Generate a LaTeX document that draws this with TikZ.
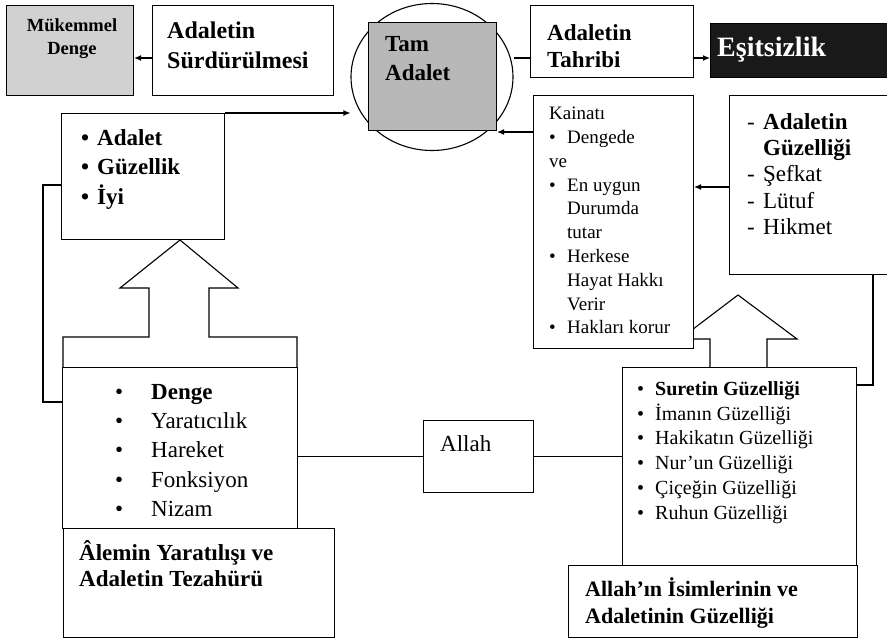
\documentclass[tikz,border=0pt]{standalone}
\usepackage{fontspec}
\setmainfont{Liberation Serif}
\usetikzlibrary{arrows.meta,shapes.geometric}

\tikzset{
  box/.style={draw,line width=1.1pt,inner sep=0pt,anchor=north west,fill=white},
  txt/.style={inner sep=0pt,anchor=north west,align=left},
  arr/.style={-{Latex[length=7pt,width=6pt]},line width=1.1pt},
  conn/.style={line width=1.1pt},
}

\newcommand{\bul}[1]{\makebox[#1][l]{\textbullet}}
\newcommand{\dsh}[1]{\makebox[#1][l]{-}}

\begin{document}
\begin{tikzpicture}[x=1pt,y=-1pt]
  \clip (0,0) rectangle (887,642);
  % circle round the centre box
  \node (circ) at (432,77) [ellipse,draw,line width=1.1pt,minimum width=162,minimum height=147,inner sep=0pt] {};
  \node (tam) at (368,22) [box,fill=black!28,minimum width=128,minimum height=108] {};
  \node (tamtxt) at (385,36) [txt,font=\fontsize{23}{29}\selectfont\bfseries] {Tam\\Adalet};

  % top row
  \node (mukemmel) at (6,5) [box,fill=black!18,minimum width=127,minimum height=90] {};
  \node (mukemmeltxt) at (72,18) [txt,anchor=north,align=center,font=\fontsize{18.5}{23}\selectfont\bfseries] {Mükemmel\\Denge};
  \node (surdur) at (152,5) [box,minimum width=181,minimum height=90] {};
  \node (surdurtxt) at (167,22) [txt,font=\fontsize{24}{30}\selectfont\bfseries] {Adaletin\\Sürdürülmesi};
  \node (tahribi) at (530,5) [box,minimum width=163,minimum height=72] {};
  \node (tahribitxt) at (547,24) [txt,font=\fontsize{23}{27}\selectfont\bfseries] {Adaletin\\Tahribi};
  \node (esit) at (710,23) [box,fill=black!90,minimum width=182,minimum height=54] {};
  \node (esittxt) at (717,50) [txt,anchor=west,text=white,font=\fontsize{28}{30}\selectfont\bfseries] {Eşitsizlik};

  % hollow arrows
  \draw [conn,fill=white] (63,367) -- (63,337) -- (149,337) -- (149,288) -- (120,288) -- (180,240)
    -- (238,288) -- (209,288) -- (209,337) -- (297,337) -- (297,367);
  \draw [conn,fill=white] (710,367) -- (710,339) -- (680,339) -- (738,295) -- (797,339) -- (767,339) -- (767,367);

  % middle row
  \node (adalet) at (61,113) [box,minimum width=163,minimum height=126] {};
  \node (adalettxt) at (81,129) [txt,font=\fontsize{23}{29.5}\selectfont\bfseries]
    {\bul{16pt}Adalet\\\bul{16pt}Güzellik\\\bul{16pt}İyi};
  \node (kainat) at (533,95) [box,minimum width=160,minimum height=253] {};
  \node (kainattxt) at (549,107) [txt,font=\fontsize{19}{23.8}\selectfont]
    {Kainatı\\\bul{18pt}Dengede\\ve\\\bul{18pt}En uygun\\\hspace*{18pt}Durumda\\\hspace*{18pt}tutar\\
     \bul{18pt}Herkese\\\hspace*{18pt}Hayat Hakkı\\\hspace*{18pt}Verir\\\bul{18pt}Hakları korur};
  \node (guzel) at (729,95) [box,minimum width=170,minimum height=179] {};
  \node (guzeltxt) at (747,113) [txt,font=\fontsize{23}{26.4}\selectfont]
    {\dsh{16pt}\textbf{Adaletin}\\\hspace*{16pt}\textbf{Güzelliği}\\\dsh{16pt}Şefkat\\\dsh{16pt}Lütuf\\\dsh{16pt}Hikmet};

  % bottom row
  \node (yaratlist) at (62,367) [box,minimum width=235,minimum height=161] {};
  \node (yaratlisttxt) at (115,384) [txt,font=\fontsize{23}{29.3}\selectfont]
    {\bul{36pt}\textbf{Denge}\\\bul{36pt}Yaratıcılık\\\bul{36pt}Hareket\\\bul{36pt}Fonksiyon\\\bul{36pt}Nizam};
  \node (yarattitle) at (63,528) [box,minimum width=271,minimum height=109] {};
  \node (yarattitletxt) at (79,540) [txt,font=\fontsize{23}{26}\selectfont\bfseries]
    {Âlemin Yaratılışı ve\\Adaletin Tezahürü};
  \node (allah) at (423,420) [box,minimum width=110,minimum height=72] {};
  \node (allahtxt) at (440,435) [txt,font=\fontsize{23}{27}\selectfont] {Allah};
  \node (suretlist) at (622,367) [box,minimum width=234,minimum height=198] {};
  \node (suretlisttxt) at (637,381) [txt,font=\fontsize{20}{24.8}\selectfont]
    {\bul{18pt}\textbf{Suretin Güzelliği}\\\bul{18pt}İmanın Güzelliği\\\bul{18pt}Hakikatın Güzelliği\\
     \bul{18pt}Nur’un Güzelliği\\\bul{18pt}Çiçeğin Güzelliği\\\bul{18pt}Ruhun Güzelliği};
  \node (surettitle) at (568,565) [box,minimum width=289,minimum height=72] {};
  \node (surettitletxt) at (585,577) [txt,font=\fontsize{22}{27}\selectfont\bfseries]
    {Allah’ın İsimlerinin ve\\Adaletinin Güzelliği};

  % connectors
  \draw [arr] (surdur.west |- 0,58) -- (mukemmel.east |- 0,58);
  \draw [conn] (tahribi.west |- 0,58) -- (circ.east |- 0,58);
  \draw [arr] (tahribi.east |- 0,58) -- (esit.west |- 0,58);
  \draw [arr] (adalet.north east) -- (adalet.north east -| circ.west);
  \draw [arr] (kainat.west |- 0,132) -- (tam.south east |- 0,132);
  \draw [arr] (guzel.west |- 0,187) -- (kainat.east |- 0,187);
  \draw [conn] (yaratlist.west |- 0,402) -| (43,185) -- (adalet.west |- 0,185);
  \draw [conn] (guzel.south -| 873,0) |- (suretlist.east |- 0,385);
  \draw [conn] (allah.west) -- (allah.west -| yaratlist.east);
  \draw [conn] (allah.east) -- (allah.east -| suretlist.west);
\end{tikzpicture}
\end{document}
